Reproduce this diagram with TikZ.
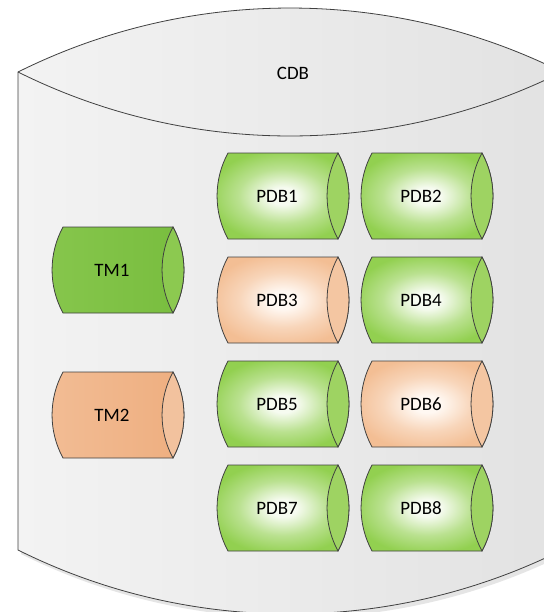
\documentclass[tikz,border=0pt]{standalone}
\usepackage{fontspec}
\setmainfont{Carlito}
\definecolor{edgegray}{RGB}{64,64,64}
\definecolor{cdbleft}{RGB}{243,243,243}
\definecolor{cdbright}{RGB}{226,226,226}
\definecolor{pdbgreen}{RGB}{146,208,80}
\definecolor{pdbgreenin}{RGB}{246,251,240}
\definecolor{pdbgreencap}{RGB}{158,211,98}
\definecolor{pdborange}{RGB}{243,190,148}
\definecolor{pdborangein}{RGB}{255,248,242}
\definecolor{pdborangecap}{RGB}{244,198,162}
\definecolor{tmgreenL}{RGB}{134,198,76}
\definecolor{tmgreenR}{RGB}{120,189,62}
\definecolor{tmgreencap}{RGB}{140,201,80}
\definecolor{tmorangeL}{RGB}{242,188,148}
\definecolor{tmorangeR}{RGB}{238,174,127}
\definecolor{tmorangecap}{RGB}{242,194,158}
\pgfdeclareradialshading{greenglow}{\pgfpoint{0bp}{0bp}}{color(0bp)=(pdbgreenin); color(5bp)=(pdbgreenin); color(16bp)=(pdbgreen!60!pdbgreenin); color(27bp)=(pdbgreen); color(50bp)=(pdbgreen)}
\pgfdeclareradialshading{orangeglow}{\pgfpoint{0bp}{0bp}}{color(0bp)=(pdborangein); color(5bp)=(pdborangein); color(16bp)=(pdborange!60!pdborangein); color(27bp)=(pdborange); color(50bp)=(pdborange)}
\begin{document}
\begin{tikzpicture}[x=0.75pt,y=0.75pt,yscale=-1,xscale=1,
  every node/.style={font=\fontsize{14.2}{16}\selectfont},
  outline/.style={draw=edgegray, line width=0.6},
  cdbcan/.style={outline, left color=cdbleft, right color=cdbright},
  greenpdb/.style={outline, shading=greenglow},
  greencap/.style={outline, fill=pdbgreencap},
  orangepdb/.style={outline, shading=orangeglow},
  orangecap/.style={outline, fill=pdborangecap},
  greentm/.style={outline, left color=tmgreenL, right color=tmgreenR},
  greentmcap/.style={outline, fill=tmgreencap},
  orangetm/.style={outline, left color=tmorangeL, right color=tmorangeR},
  orangetmcap/.style={outline, fill=tmorangecap}]
\clip (0,0) rectangle (544,612);
\fill [white] (0,0) rectangle (544,612);

%Shape: Can (shadow)
\fill [black!10, shift={(3,4)}] (18,72) .. controls (189.3,-13.3) and (390.7,-13.3) .. (562,72) -- (562,550) .. controls (390.7,635.3) and (189.3,635.3) .. (18,550) -- cycle ;
%Shape: Can
\draw [cdbcan] (18,72) .. controls (189.3,-13.3) and (390.7,-13.3) .. (562,72) -- (562,550) .. controls (390.7,635.3) and (189.3,635.3) .. (18,550) -- cycle ;
\draw [outline] (18,72) .. controls (189.3,157.3) and (390.7,157.3) .. (562,72) ;

%Shape: Can
\draw [greentm] (63,227) -- (173,227) .. controls (187.6,253.8) and (187.6,286.2) .. (173,313) -- (63,313) .. controls (48.4,286.2) and (48.4,253.8) .. (63,227) -- cycle ;
\draw [greentmcap] (173,227) .. controls (187.6,253.8) and (187.6,286.2) .. (173,313) .. controls (158.4,286.2) and (158.4,253.8) .. (173,227) -- cycle ;
%Shape: Can
\draw [orangetm] (63,372) -- (173,372) .. controls (187.6,398.8) and (187.6,431.2) .. (173,458) -- (63,458) .. controls (48.4,431.2) and (48.4,398.8) .. (63,372) -- cycle ;
\draw [orangetmcap] (173,372) .. controls (187.6,398.8) and (187.6,431.2) .. (173,458) .. controls (158.4,431.2) and (158.4,398.8) .. (173,372) -- cycle ;

%Shape: Can
\draw [greenpdb] (228,153) -- (338,153) .. controls (352.6,179.8) and (352.6,212.2) .. (338,239) -- (228,239) .. controls (213.4,212.2) and (213.4,179.8) .. (228,153) -- cycle ;
\draw [greencap] (338,153) .. controls (352.6,179.8) and (352.6,212.2) .. (338,239) .. controls (323.4,212.2) and (323.4,179.8) .. (338,153) -- cycle ;
%Shape: Can
\draw [greenpdb] (372,153) -- (482,153) .. controls (496.6,179.8) and (496.6,212.2) .. (482,239) -- (372,239) .. controls (357.4,212.2) and (357.4,179.8) .. (372,153) -- cycle ;
\draw [greencap] (482,153) .. controls (496.6,179.8) and (496.6,212.2) .. (482,239) .. controls (467.4,212.2) and (467.4,179.8) .. (482,153) -- cycle ;
%Shape: Can
\draw [orangepdb] (228,257) -- (338,257) .. controls (352.6,283.8) and (352.6,316.2) .. (338,343) -- (228,343) .. controls (213.4,316.2) and (213.4,283.8) .. (228,257) -- cycle ;
\draw [orangecap] (338,257) .. controls (352.6,283.8) and (352.6,316.2) .. (338,343) .. controls (323.4,316.2) and (323.4,283.8) .. (338,257) -- cycle ;
%Shape: Can
\draw [greenpdb] (372,257) -- (482,257) .. controls (496.6,283.8) and (496.6,316.2) .. (482,343) -- (372,343) .. controls (357.4,316.2) and (357.4,283.8) .. (372,257) -- cycle ;
\draw [greencap] (482,257) .. controls (496.6,283.8) and (496.6,316.2) .. (482,343) .. controls (467.4,316.2) and (467.4,283.8) .. (482,257) -- cycle ;
%Shape: Can
\draw [greenpdb] (228,361) -- (338,361) .. controls (352.6,387.8) and (352.6,420.2) .. (338,447) -- (228,447) .. controls (213.4,420.2) and (213.4,387.8) .. (228,361) -- cycle ;
\draw [greencap] (338,361) .. controls (352.6,387.8) and (352.6,420.2) .. (338,447) .. controls (323.4,420.2) and (323.4,387.8) .. (338,361) -- cycle ;
%Shape: Can
\draw [orangepdb] (372,361) -- (482,361) .. controls (496.6,387.8) and (496.6,420.2) .. (482,447) -- (372,447) .. controls (357.4,420.2) and (357.4,387.8) .. (372,361) -- cycle ;
\draw [orangecap] (482,361) .. controls (496.6,387.8) and (496.6,420.2) .. (482,447) .. controls (467.4,420.2) and (467.4,387.8) .. (482,361) -- cycle ;
%Shape: Can
\draw [greenpdb] (228,465) -- (338,465) .. controls (352.6,491.8) and (352.6,524.2) .. (338,551) -- (228,551) .. controls (213.4,524.2) and (213.4,491.8) .. (228,465) -- cycle ;
\draw [greencap] (338,465) .. controls (352.6,491.8) and (352.6,524.2) .. (338,551) .. controls (323.4,524.2) and (323.4,491.8) .. (338,465) -- cycle ;
%Shape: Can
\draw [greenpdb] (372,465) -- (482,465) .. controls (496.6,491.8) and (496.6,524.2) .. (482,551) -- (372,551) .. controls (357.4,524.2) and (357.4,491.8) .. (372,465) -- cycle ;
\draw [greencap] (482,465) .. controls (496.6,491.8) and (496.6,524.2) .. (482,551) .. controls (467.4,524.2) and (467.4,491.8) .. (482,465) -- cycle ;

% Text Node
\draw (293,73) node (cdb) {CDB};
% Text Node
\draw (112,270) node (tm1) {TM1};
% Text Node
\draw (112,415) node (tm2) {TM2};
% Text Node
\draw (277,196) node (pdb1) {PDB1};
% Text Node
\draw (421,196) node (pdb2) {PDB2};
% Text Node
\draw (277,300) node (pdb3) {PDB3};
% Text Node
\draw (421,300) node (pdb4) {PDB4};
% Text Node
\draw (277,404) node (pdb5) {PDB5};
% Text Node
\draw (421,404) node (pdb6) {PDB6};
% Text Node
\draw (277,508) node (pdb7) {PDB7};
% Text Node
\draw (421,508) node (pdb8) {PDB8};

\end{tikzpicture}
\end{document}
